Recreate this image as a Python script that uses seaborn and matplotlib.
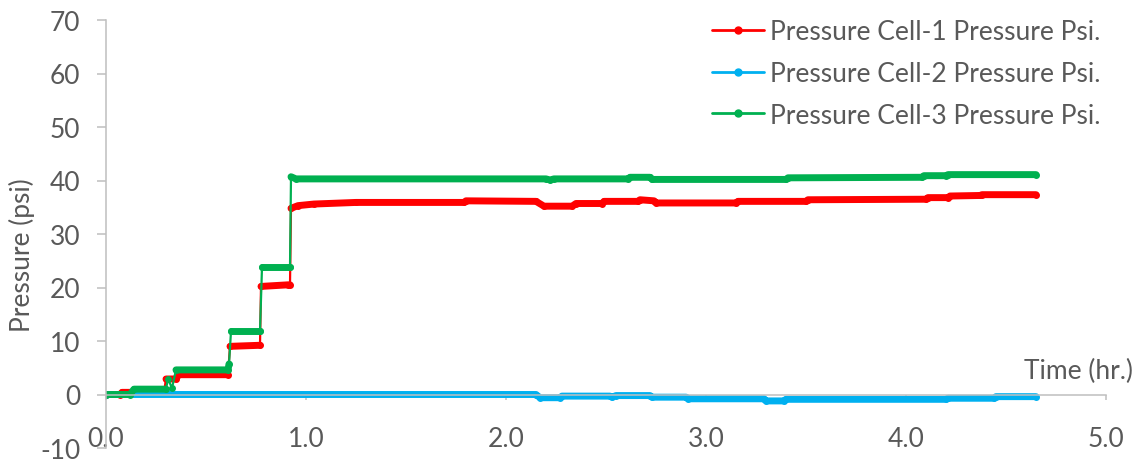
import numpy as np
import pandas as pd
import matplotlib
matplotlib.use("Agg")
import matplotlib.pyplot as plt
from matplotlib.lines import Line2D
import seaborn as sns

# Pressure Cell-1 (red)
t1 = [0.00, 0.07, 0.08, 0.29, 0.30, 0.35, 0.36, 0.61, 0.62, 0.77, 0.775, 0.91, 0.92, 0.925,
      0.96, 1.04, 1.25, 1.79, 1.80, 2.15, 2.19, 2.33, 2.35, 2.48, 2.49, 2.66, 2.67, 2.74, 2.75,
      3.15, 3.16, 3.50, 3.51, 4.10, 4.11, 4.21, 4.22, 4.37, 4.38, 4.65]
p1 = [0.0, 0.0, 0.4, 0.4, 2.9, 2.9, 3.7, 3.7, 9.0, 9.2, 20.2, 20.5, 20.5, 34.8,
      35.3, 35.6, 35.9, 35.9, 36.2, 36.1, 35.2, 35.2, 35.7, 35.7, 36.1, 36.1, 36.4, 36.2, 35.8,
      35.8, 36.1, 36.1, 36.4, 36.5, 36.8, 36.8, 37.1, 37.2, 37.35, 37.35]

# Pressure Cell-2 (blue)
t2 = [0.00, 2.15, 2.17, 2.27, 2.28, 2.52, 2.53, 2.55, 2.72, 2.73, 2.90, 2.91, 3.29, 3.30,
      3.39, 3.40, 4.20, 4.21, 4.44, 4.45, 4.65]
p2 = [0.0, 0.0, -0.6, -0.6, -0.3, -0.3, -0.5, -0.2, -0.2, -0.5, -0.5, -0.8, -0.8, -1.2,
      -1.2, -0.9, -0.9, -0.7, -0.7, -0.4, -0.4]

# Pressure Cell-3 (green)
t3 = [0.00, 0.12, 0.14, 0.30, 0.31, 0.33, 0.35, 0.61, 0.615, 0.625, 0.77, 0.78, 0.92, 0.925,
      0.95, 2.20, 2.22, 2.24, 2.61, 2.62, 2.72, 2.73, 3.40, 3.41, 4.08, 4.09, 4.20, 4.21, 4.65]
p3 = [0.0, 0.0, 1.0, 1.0, 2.9, 1.2, 4.6, 4.6, 5.7, 11.8, 11.8, 23.8, 23.8, 40.7,
      40.3, 40.3, 40.1, 40.3, 40.3, 40.6, 40.6, 40.2, 40.2, 40.5, 40.6, 40.9, 40.9, 41.1, 41.1]

labels = ["Pressure Cell-1 Pressure Psi.", "Pressure Cell-2 Pressure Psi.",
          "Pressure Cell-3 Pressure Psi."]
colors = ["#FF0000", "#00B0F0", "#00B050"]

sns.set_theme(style="white")
plt.rcParams["font.family"] = ["Lato", "DejaVu Sans"]
plt.rcParams["axes.unicode_minus"] = False
txt = "#595959"
grey = "#BFBFBF"
fs = 19

fig = plt.figure(figsize=(11.41, 4.64), dpi=100)
ax = fig.add_axes([106 / 1141, 1 - 449 / 464, 1000 / 1141, 428 / 464])

for t, p, c in zip([t1, t2, t3], [p1, p2, p3], colors):
    df = pd.DataFrame({"t": t, "p": p})
    # break the thick band at the big jumps, the jumps stay thin
    df["seg"] = (df["p"].diff().abs() > 1.5).cumsum()
    sns.lineplot(data=df, x="t", y="p", color=c, lw=1.6, estimator=None, sort=False,
                 marker="o", markersize=5, markeredgewidth=0, ax=ax)
    sns.lineplot(data=df, x="t", y="p", units="seg", color=c, lw=5.0,
                 estimator=None, sort=False, ax=ax)
for ln in ax.lines:
    ln.set_solid_capstyle("round")

ax.set_xlim(0, 5)
ax.set_ylim(-10, 70)
ax.set_xticks(np.arange(0, 5.01, 1.0))
ax.set_xticklabels([f"{v:.1f}" for v in np.arange(0, 5.01, 1.0)])
ax.set_yticks(np.arange(-10, 71, 10))

for s in ["top", "right"]:
    ax.spines[s].set_visible(False)
ax.spines["bottom"].set_position(("data", 0))
for s in ["left", "bottom"]:
    ax.spines[s].set_color(grey)
    ax.spines[s].set_linewidth(1.1)

ax.tick_params(axis="y", direction="out", length=6.5, width=1.1, color=grey,
               labelsize=fs, labelcolor=txt, pad=12, left=True)
ax.tick_params(axis="x", direction="out", length=3.5, width=1.1, color=grey,
               labelsize=fs, labelcolor=txt, pad=19, bottom=True)

ax.set_xlabel("Time (hr.)", fontsize=fs, color=txt)
ax.xaxis.set_label_coords(1.027, 0.18)
ax.xaxis.label.set_ha("right")
ax.xaxis.label.set_va("center")
ax.set_ylabel("Pressure (psi)", fontsize=fs, color=txt)
ax.yaxis.set_label_coords(-0.084, 0.453)
ax.yaxis.label.set_va("center")

handles = [Line2D([], [], color=c, lw=2, marker="o", markersize=5) for c in colors]
ax.legend(handles, labels, loc="upper right", bbox_to_anchor=(1.0, 1.014), frameon=False,
          fontsize=fs, labelcolor=txt, handlelength=1.95, handletextpad=0.25,
          labelspacing=0.63, borderaxespad=0, borderpad=0.2)

fig.savefig("out.png", dpi=100)
